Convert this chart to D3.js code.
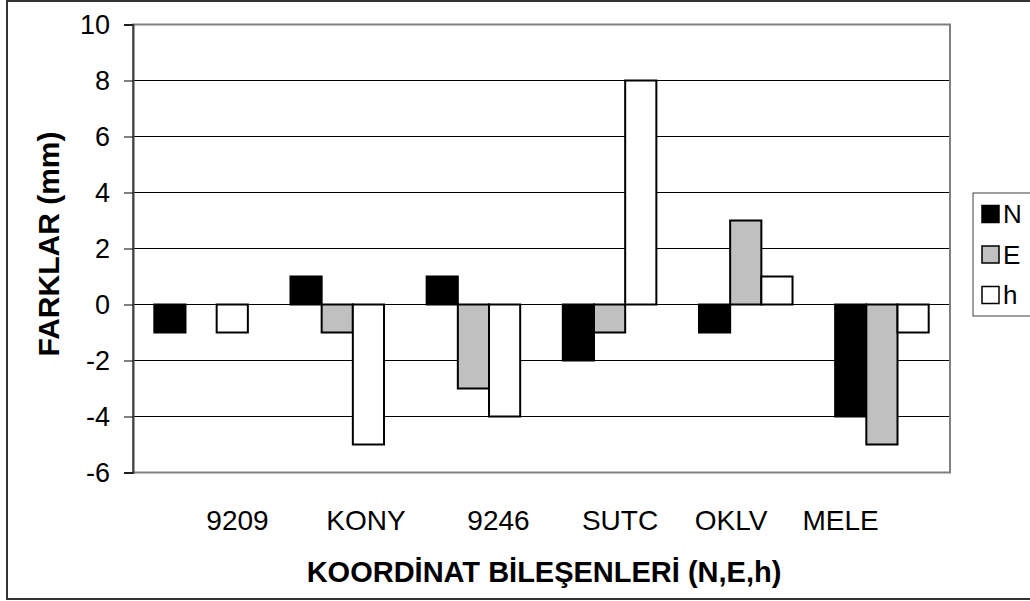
<!DOCTYPE html>
<html>
<head>
<meta charset="utf-8">
<script src="https://cdn.jsdelivr.net/npm/d3@7"></script>
<style>
  html, body { margin: 0; padding: 0; background: #fff; }
  svg { display: block; font-family: "Liberation Sans", Arial, sans-serif; }
</style>
</head>
<body>
<svg id="chart" width="1030" height="601"></svg>
<script>
const categories = ["9209", "KONY", "9246", "SUTC", "OKLV", "MELE"];
const seriesNames = ["N", "E", "h"];
const valuesN = [-1, 1, 1, -2, -1, -4];
const valuesE = [0, -1, -3, -1, 3, -5];
const valuesH = [-1, -5, -4, 8, 1, -1];
const yTicks = [-6, -4, -2, 0, 2, 4, 6, 8, 10];
const seriesColors = ["#000000", "#c0c0c0", "#ffffff"];
const xTitle = "KOORDİNAT BİLEŞENLERİ (N,E,h)";
const yTitle = "FARKLAR (mm)";
// horizontal centres of the category labels as typeset in the original
const labelCenters = [237.5, 366, 498.5, 620, 731, 840.5];

const seriesValues = [valuesN, valuesE, valuesH];
const data = categories.map((c, i) => ({
  cat: c,
  vals: seriesNames.map((s, j) => ({ s, v: seriesValues[j][i], color: seriesColors[j] }))
}));

const svg = d3.select("#chart");
const pLeft = 133, pRight = 950, pTop = 24.5, pBottom = 472.5;

// outer border
svg.append("rect").attr("x", 7).attr("y", 1).attr("width", 1040).attr("height", 598)
  .attr("fill", "#fff").attr("stroke", "#333").attr("stroke-width", 2);

const y = d3.scaleLinear().domain([-6, 10]).range([pBottom, pTop]);
const x0 = d3.scaleBand().domain(categories).range([pLeft, pRight])
  .paddingInner(0.313).paddingOuter(0.1565);
const x1 = d3.scaleBand().domain(seriesNames).range([0, x0.bandwidth()]).padding(0);

// gridlines
svg.append("g").selectAll("line").data(yTicks.filter(t => t > -6 && t < 10)).join("line")
  .attr("x1", pLeft).attr("x2", pRight)
  .attr("y1", d => y(d)).attr("y2", d => y(d))
  .attr("stroke", "#000").attr("stroke-width", 1);

// plot border
svg.append("rect").attr("x", pLeft).attr("y", pTop).attr("width", pRight - pLeft).attr("height", pBottom - pTop)
  .attr("fill", "none").attr("stroke", "#808080").attr("stroke-width", 2);

// y axis
const yAxis = d3.axisLeft(y).tickValues(yTicks).tickSize(9).tickPadding(14).tickFormat(d => String(d));
const ya = svg.append("g").attr("transform", `translate(${pLeft},0)`).call(yAxis);
ya.select(".domain").attr("stroke", "#404040").attr("stroke-width", 2);
ya.selectAll(".tick line").attr("stroke", "#000");
ya.selectAll(".tick text").attr("font-size", 27).attr("fill", "#000")
  .attr("font-family", "'Liberation Sans', Arial, sans-serif");

// bars
const groups = svg.append("g").selectAll("g").data(data).join("g")
  .attr("transform", d => `translate(${x0(d.cat)},0)`);
groups.selectAll("rect").data(d => d.vals.filter(e => e.v !== 0)).join("rect")
  .attr("x", d => x1(d.s))
  .attr("width", x1.bandwidth())
  .attr("y", d => y(Math.max(0, d.v)))
  .attr("height", d => Math.abs(y(d.v) - y(0)))
  .attr("fill", d => d.color)
  .attr("stroke", "#000").attr("stroke-width", 2);

// category labels
svg.append("g").selectAll("text").data(categories).join("text")
  .attr("x", (d, i) => labelCenters[i]).attr("y", 530)
  .attr("text-anchor", "middle")
  .attr("font-size", 28).attr("fill", "#000")
  .text(d => d);

// axis titles
svg.append("text").attr("x", 544).attr("y", 582).attr("text-anchor", "middle")
  .attr("font-size", 29).attr("font-weight", "bold").attr("fill", "#000").text(xTitle);
svg.append("text").attr("transform", "translate(59,244) rotate(-90)").attr("text-anchor", "middle")
  .attr("font-size", 30).attr("font-weight", "bold").attr("fill", "#000").text(yTitle);

// legend
const lg = svg.append("g");
lg.append("rect").attr("x", 973).attr("y", 193).attr("width", 80).attr("height", 123)
  .attr("fill", "#fff").attr("stroke", "#404040").attr("stroke-width", 1);
const items = lg.selectAll("g").data(seriesNames).join("g")
  .attr("transform", (d, i) => `translate(982,${214 + i * 40.5})`);
items.append("rect").attr("x", 0).attr("y", -8.5).attr("width", 17).attr("height", 17)
  .attr("fill", (d, i) => seriesColors[i]).attr("stroke", "#000").attr("stroke-width", 1.5);
items.append("text").attr("x", 21).attr("y", 9).attr("font-size", 26).attr("fill", "#000").text(d => d);
</script>
</body>
</html>
